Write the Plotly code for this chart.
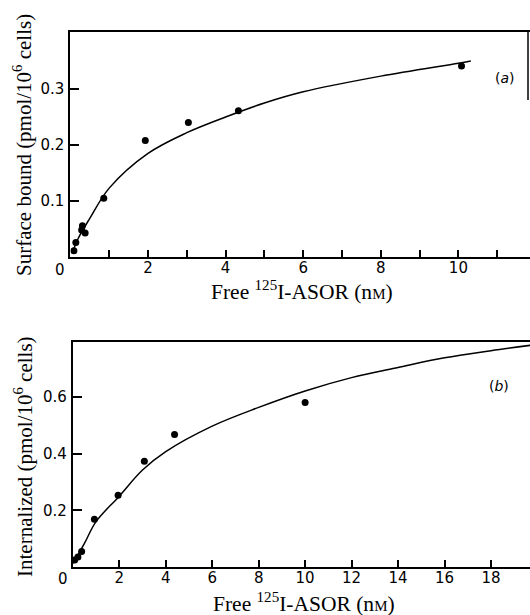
import plotly.graph_objects as go

# ---- data ----
# panel (a): surface bound
a_free = [0.09, 0.14, 0.29, 0.31, 0.38, 0.86, 1.93, 3.04, 4.33, 10.08]
a_bound = [0.011, 0.026, 0.048, 0.056, 0.043, 0.105, 0.208, 0.240, 0.261, 0.341]
a_fit_x = [0.05, 0.2, 0.5, 1, 2, 3, 4, 5, 6, 8, 10, 10.32]
a_fit_y = [0.007, 0.033, 0.069, 0.123, 0.185, 0.222, 0.250, 0.275, 0.295, 0.323, 0.346, 0.350]

# panel (b): internalized
b_free = [0.08, 0.22, 0.38, 0.93, 1.95, 3.08, 4.38, 10.0]
b_intern = [0.025, 0.035, 0.055, 0.168, 0.253, 0.373, 0.467, 0.580]
b_fit_x = [0.02, 0.5, 1, 2, 3, 4, 6, 8, 10, 12, 14, 16, 18, 19.7]
b_fit_y = [0.013, 0.083, 0.160, 0.250, 0.342, 0.407, 0.497, 0.563, 0.621, 0.668, 0.704, 0.738, 0.763, 0.782]

a_xticks = [2, 4, 6, 8, 10]
a_xtext = ["2", "4", "6", "8", "10"]
a_yticks = [0.1, 0.2, 0.3]
a_ytext = ["0.1", "0.2", "0.3"]
b_xticks = [2, 4, 6, 8, 10, 12, 14, 16, 18]
b_xtext = ["2", "4", "6", "8", "10", "12", "14", "16", "18"]
b_yticks = [0.2, 0.4, 0.6]
b_ytext = ["0.2", "0.4", "0.6"]

W, H = 530, 615
def px(x):
    return x / W
def py(y):
    return 1 - y / H

TICKFONT = dict(family="DejaVu Sans", size=15, color="black")
YTITLEFONT = dict(family="Liberation Serif", size=21, color="black")
XTITLEFONT = dict(family="Liberation Serif", size=21.5, color="black")

fig = go.Figure()
fig.add_trace(go.Scatter(x=a_fit_x, y=a_fit_y, mode="lines", line=dict(color="black", width=1.5, shape="spline"),
                         xaxis="x", yaxis="y", showlegend=False, hoverinfo="skip"))
fig.add_trace(go.Scatter(x=a_free, y=a_bound, mode="markers", marker=dict(color="black", size=7),
                         xaxis="x", yaxis="y", showlegend=False))
fig.add_trace(go.Scatter(x=b_fit_x, y=b_fit_y, mode="lines", line=dict(color="black", width=1.5, shape="spline"),
                         xaxis="x2", yaxis="y2", showlegend=False, hoverinfo="skip"))
fig.add_trace(go.Scatter(x=b_free, y=b_intern, mode="markers", marker=dict(color="black", size=7),
                         xaxis="x2", yaxis="y2", showlegend=False))

common_x = dict(showline=True, linewidth=2, linecolor="black", mirror=True, ticks="inside", ticklen=7,
                tickwidth=2, tickcolor="black", showgrid=False, zeroline=False, tickfont=TICKFONT,
                tickmode="array", ticklabelstandoff=-4)
common_y = dict(showline=True, linewidth=2, linecolor="black", ticks="inside", ticklen=9,
                tickwidth=2, tickcolor="black", showgrid=False, zeroline=False, tickfont=TICKFONT,
                tickmode="array", ticklabelstandoff=1)

fig.update_layout(
    width=W, height=H, margin=dict(l=0, r=0, t=0, b=0),
    paper_bgcolor="white", plot_bgcolor="white",
    xaxis=dict(domain=[px(70.4), 1.0], range=[0, 11.845], anchor="y",
               tickvals=a_xticks, ticktext=a_xtext,
               minor=dict(tickmode="linear", tick0=1, dtick=2, ticks="inside", ticklen=7, tickwidth=2,
                          tickcolor="black", showgrid=False),
               **common_x),
    yaxis=dict(domain=[py(257), py(32)], range=[0, 0.4018], anchor="x",
               tickvals=a_yticks, ticktext=a_ytext, **common_y),
    xaxis2=dict(domain=[px(72.8), 1.0], range=[0, 19.68], anchor="y2",
                tickvals=b_xticks, ticktext=b_xtext, **common_x),
    yaxis2=dict(domain=[py(567), py(342.3)], range=[0, 0.7926], anchor="x2",
                tickvals=b_yticks, ticktext=b_ytext, **common_y),
)

# partial right border of the top panel (as in the scan)
fig.add_shape(type="line", xref="paper", yref="paper", x0=px(528), x1=px(528), y0=py(32), y1=py(100),
              line=dict(color="black", width=1.5))

xtitle = "Free <sup>125</sup>I-ASOR (n<span style='font-size:15px'>M</span>)"
annots = [
    dict(x=px(22), y=py(145), text="Surface bound (pmol/10<sup>6</sup> cells)", textangle=-90, font=YTITLEFONT),
    dict(x=px(23), y=py(457), text="Internalized (pmol/10<sup>6</sup> cells)", textangle=-90, font=YTITLEFONT),
    dict(x=px(301.7), y=py(290), text=xtitle, font=XTITLEFONT),
    dict(x=px(304), y=py(602), text=xtitle, font=XTITLEFONT),
    dict(x=px(60), y=py(270), text="0", font=TICKFONT),
    dict(x=px(62.7), y=py(579), text="0", font=TICKFONT),
    dict(x=px(505), y=py(78), text="(<i>a</i>)", font=dict(family="DejaVu Sans", size=14, color="black")),
    dict(x=px(499), y=py(386), text="(<i>b</i>)", font=dict(family="DejaVu Sans", size=14, color="black")),
]
for a in annots:
    fig.add_annotation(xref="paper", yref="paper", showarrow=False, xanchor="center", yanchor="middle", **a)

fig.write_html("out.html")
